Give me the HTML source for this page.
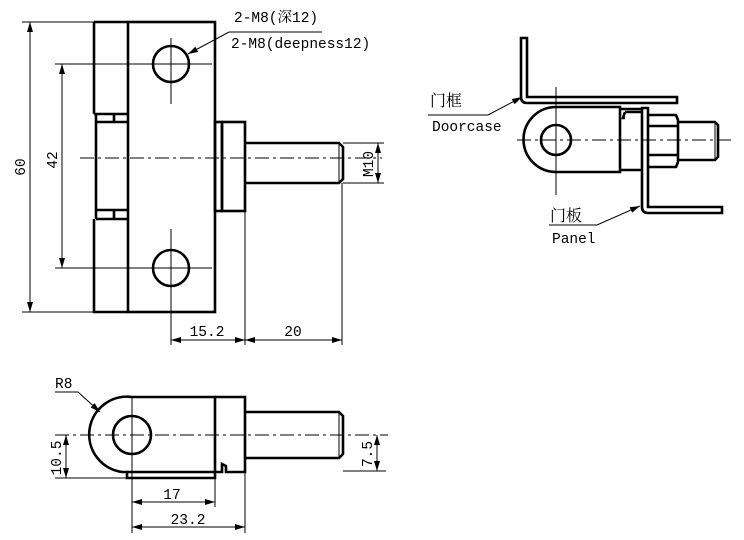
<!DOCTYPE html>
<html><head><meta charset="utf-8"><style>
html,body{margin:0;padding:0;background:#fff;}
svg{display:block;}
text{font-family:"Liberation Mono","Noto Serif CJK SC",monospace;font-size:14.5px;fill:#000;}
.cj{font-size:16px;}
.t{stroke:#000;stroke-width:2.6;fill:none;}
.n{stroke:#000;stroke-width:1;fill:none;}
.c{stroke:#000;stroke-width:1;fill:none;stroke-dasharray:14,4,3,4;}
</style></head><body>
<svg width="744" height="540" viewBox="0 0 744 540" xmlns="http://www.w3.org/2000/svg">
<defs>
<marker id="a" markerWidth="10" markerHeight="6" refX="10" refY="3" orient="auto" markerUnits="userSpaceOnUse"><path d="M0,0 L10,3 L0,6 z" fill="#000"/></marker>
<marker id="b" markerWidth="10" markerHeight="6" refX="0" refY="3" orient="auto" markerUnits="userSpaceOnUse"><path d="M10,0 L0,3 L10,6 z" fill="#000"/></marker>
</defs>

<!-- TOP VIEW -->
<rect class="t" x="128" y="22" width="87" height="290"/>
<path class="t" d="M94,22 H128 M94,22 V114 M94,114 H128 M96,114 V122 M96,122 H128 M114,114 V122 M96,122 V210 M96,210 H128 M96,210 V219 M114,210 V219 M96,219 H128 M94,219 V312 H128"/>
<circle class="t" cx="171" cy="64" r="18"/>
<circle class="t" cx="171" cy="268" r="18"/>
<path class="n" d="M171,38 V104 M150,64 H212 M171,229 V296 M150,268 H212 M168,64 H174 M171,61 V67 M168,268 H174 M171,265 V271"/>
<rect class="t" x="215" y="122" width="7" height="89"/>
<rect class="t" x="222" y="122" width="23" height="89"/>
<path class="t" d="M245,143 H339 L343,147 V179 L339,183 H245"/>
<path class="n" d="M339,143 V183"/>
<path class="c" d="M80,158 H382"/>
<!-- dims -->
<path class="n" d="M22,22 H94 M22,312 H94 M55,64 H150 M55,268 H150"/>
<path class="n" d="M30,22 V312" marker-start="url(#b)" marker-end="url(#a)"/>
<path class="n" d="M62,64 V268" marker-start="url(#b)" marker-end="url(#a)"/>
<text transform="translate(25,167) rotate(-90)" text-anchor="middle">60</text>
<text transform="translate(57,160) rotate(-90)" text-anchor="middle">42</text>
<path class="n" d="M171,296 V345 M245,211 V345 M342,183 V345"/>
<path class="n" d="M171,340 H245" marker-start="url(#b)" marker-end="url(#a)"/>
<path class="n" d="M245,340 H342" marker-start="url(#b)" marker-end="url(#a)"/>
<text x="207" y="336" text-anchor="middle">15.2</text>
<text x="293" y="336" text-anchor="middle">20</text>
<path class="n" d="M343,143 H384 M343,183 H384"/>
<path class="n" d="M378,143 V183" marker-start="url(#b)" marker-end="url(#a)"/>
<text transform="translate(373,164) rotate(-90)" text-anchor="middle">M10</text>
<text x="234" y="22">2-M8(深12)</text>
<text x="231" y="48">2-M8(deepness12)</text>
<path class="n" d="M322,32 H229 L188,54" marker-end="url(#a)"/>

<!-- RIGHT VIEW -->
<path class="t" d="M521,38 H527 V97 H677 V103 H527 Q521,103 521,97 Z"/>
<path class="t" d="M620,107 H556 A32,32 0 0 0 556,172 H620 Z"/>
<circle class="t" cx="556" cy="140" r="15"/>
<path class="t" d="M620,109 H642 M620,170 H642 M625,112 L623,118 L625,118 M625,112 H642"/>
<path class="t" d="M642,108 H648 V207 H722 V213 H648 Q642,213 642,207 Z"/>
<path class="t" d="M648,115 H676 L678,120 V162 L676,167 H648 M648,126 H678 M648,155 H678"/>
<path class="t" d="M678,122 H715 L718,125 V157 L715,160 H678"/>
<path class="n" d="M715,122 V160"/>
<path class="c" d="M517,140 H732"/>
<path class="n" d="M556,87 V195"/>
<text x="430" y="106" class="cj">门框</text>
<text x="432" y="131">Doorcase</text>
<path class="n" d="M428,115 H488 L522,97" marker-end="url(#a)"/>
<text x="550" y="221" class="cj">门板</text>
<text x="552" y="243">Panel</text>
<path class="n" d="M549,225 H597 L640,206" marker-end="url(#a)"/>

<!-- BOTTOM VIEW -->
<path class="t" d="M215,397 H132 A37,37 0 0 0 122,472 L127,472 V478 H215 Z"/>
<path class="t" d="M127,472 H215"/>
<circle class="t" cx="132" cy="435" r="19"/>
<path class="t" d="M215,397 H245 V472 H226 V466 L222,464 V472 H215"/>
<path class="t" d="M245,412 H339 L343,416 V454 L339,458 H245"/>
<path class="n" d="M339,412 V458"/>
<path class="n" d="M132,397 V478"/>
<path class="c" d="M55,435 H388"/>
<path class="n" d="M55,478 H127 M343,471 H386"/>
<path class="n" d="M66,435 V478" marker-start="url(#b)" marker-end="url(#a)"/>
<path class="n" d="M377,435 V471" marker-start="url(#b)" marker-end="url(#a)"/>
<text transform="translate(61,458) rotate(-90)" text-anchor="middle">10.5</text>
<text transform="translate(372,454) rotate(-90)" text-anchor="middle">7.5</text>
<path class="n" d="M132,478 V533 M215,478 V507 M245,472 V533"/>
<path class="n" d="M132,502 H215" marker-start="url(#b)" marker-end="url(#a)"/>
<path class="n" d="M132,527 H245" marker-start="url(#b)" marker-end="url(#a)"/>
<text x="172" y="499" text-anchor="middle">17</text>
<text x="188" y="524" text-anchor="middle">23.2</text>
<text x="55" y="388">R8</text>
<path class="n" d="M55,392 H78 L100,412" marker-end="url(#a)"/>
</svg>
</body></html>
